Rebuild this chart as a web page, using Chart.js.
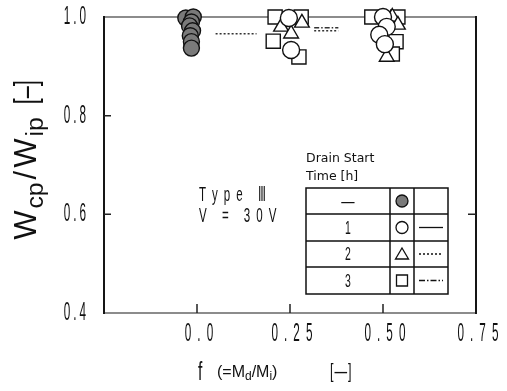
<!DOCTYPE html>
<html>
<head>
<meta charset="utf-8">
<script src="https://cdn.jsdelivr.net/npm/chart.js@4.4.1/dist/chart.umd.min.js"></script>
<style>
  html, body { margin: 0; padding: 0; background: #fff; }
</style>
</head>
<body>
<canvas id="c" width="507" height="391"></canvas>
<script>
// --- data -------------------------------------------------------------
// no drain (filled circles)
const fNone = [-0.03, -0.01, -0.015, -0.02, -0.012, -0.018, -0.015, -0.015];
const wNone = [0.998, 1.0, 0.99, 0.982, 0.972, 0.962, 0.95, 0.937];
// drain start 1 h (open circles)
const f1h = [0.247, 0.253, 0.50, 0.51, 0.49, 0.505];
const w1h = [0.998, 0.933, 1.0, 0.98, 0.964, 0.945];
// drain start 2 h (triangles)
const f2h = [0.226, 0.253, 0.282, 0.525, 0.54, 0.51];
const w2h = [0.98, 0.966, 0.988, 1.0, 0.984, 0.919];
// drain start 3 h (squares)
const f3h = [0.21, 0.28, 0.205, 0.274, 0.47, 0.54, 0.535, 0.525];
const w3h = [1.0, 1.0, 0.951, 0.919, 1.0, 1.0, 0.95, 0.925];
// mean lines between groups
const fLine2h = [0.05, 0.16, 0.24, 0.315, 0.38];
const wLine2h = [0.966, 0.966, null, 0.972, 0.972];
const fLine3h = [0.315, 0.38];
const wLine3h = [0.978, 0.978];

const xTickValues = [0, 0.25, 0.5, 0.75];
const xTickLabels = ['0.0', '0.25', '0.50', '0.75'];
const yTickValues = [0.4, 0.6, 0.8, 1.0];
const yTickLabels = ['0.4', '0.6', '0.8', '1.0'];
const drainTimes = ['—', '1', '2', '3'];

const SANS = "'Liberation Sans', Arial, sans-serif";

const pts = (xs, ys) => xs.map((x, i) => ({ x: x, y: ys[i] }));

// squeezed, letter-spaced text (the typewriter-like condensed lettering)
function spaced(ctx, str, x, y, size, sx, gap, align) {
    ctx.font = size + 'px ' + SANS;
    const chars = Array.from(str);
    const widths = chars.map(c => ctx.measureText(c).width * sx);
    const total = widths.reduce((a, b) => a + b, 0) + gap * (chars.length - 1);
    let cx = align === 'center' ? x - total / 2 : align === 'right' ? x - total : x;
    chars.forEach((c, i) => {
        ctx.save();
        ctx.translate(cx, y);
        ctx.scale(sx, 1);
        ctx.textAlign = 'left';
        ctx.fillText(c, 0, 0);
        ctx.restore();
        cx += widths[i] + gap;
    });
    return total;
}

// text pieces with subscripts, returns total width
function rich(ctx, parts, x, y, size, dryRun) {
    let cx = x;
    parts.forEach(p => {
        const s = p.sub ? size * (p.subScale || 0.8) : size;
        const sx = p.sx || 1;
        ctx.font = s + 'px ' + SANS;
        if (!dryRun) {
            ctx.save();
            ctx.translate(cx, y + (p.sub ? p.drop : 0));
            ctx.scale(sx, 1);
            ctx.fillText(p.t, 0, 0);
            ctx.restore();
        }
        cx += ctx.measureText(p.t).width * sx + (p.gap || 0);
    });
    return cx - x;
}

const framePlugin = {
    id: 'frame',
    beforeDatasetsDraw(chart) {
        const { ctx, chartArea: a, scales } = chart;
        ctx.save();
        ctx.lineWidth = 2;
        ctx.strokeStyle = '#8c8c8c';
        ctx.beginPath();
        ctx.moveTo(a.left, a.top); ctx.lineTo(a.right, a.top);
        ctx.moveTo(a.left, a.bottom); ctx.lineTo(a.right, a.bottom);
        ctx.stroke();
        ctx.strokeStyle = '#151515';
        ctx.beginPath();
        ctx.moveTo(a.left, a.top - 1); ctx.lineTo(a.left, a.bottom + 1);
        ctx.moveTo(a.right, a.top - 1); ctx.lineTo(a.right, a.bottom + 1);
        ctx.stroke();
        // inner ticks
        ctx.lineWidth = 1.5;
        ctx.strokeStyle = '#222';
        ctx.beginPath();
        [0, 0.25, 0.5].forEach(v => {
            const px = scales.x.getPixelForValue(v);
            ctx.moveTo(px, a.bottom); ctx.lineTo(px, a.bottom - 9);
        });
        [0.6, 0.8].forEach(v => {
            const py = scales.y.getPixelForValue(v);
            ctx.moveTo(a.left, py); ctx.lineTo(a.left + 7, py);
        });
        const py6 = scales.y.getPixelForValue(0.6);
        ctx.moveTo(a.right, py6); ctx.lineTo(a.right - 8, py6);
        ctx.stroke();
        ctx.restore();
    },
    afterDraw(chart) {
        const { ctx, scales } = chart;
        ctx.save();
        ctx.fillStyle = '#111';
        ctx.textBaseline = 'middle';

        // tick labels placed from the scales
        scales.x.ticks.forEach(t => {
            const i = xTickValues.indexOf(t.value);
            if (i < 0) return;
            spaced(ctx, xTickLabels[i], scales.x.getPixelForValue(t.value) + 2, 334, 25, 0.47, 6, 'center');
        });
        scales.y.ticks.forEach(t => {
            const i = yTickValues.indexOf(t.value);
            if (i < 0) return;
            spaced(ctx, yTickLabels[i], 86, scales.y.getPixelForValue(t.value), 25, 0.47, 3, 'right');
        });

        ctx.textBaseline = 'alphabetic';

        // y axis title
        const yParts = [
            { t: 'W', gap: 2 }, { t: 'cp', sub: true, drop: 7, gap: 3 }, { t: '/', gap: 3 },
            { t: 'W', gap: 2 }, { t: 'ip', sub: true, drop: 7, gap: 13 },
            { t: '[–]', sx: 0.7 }
        ];
        ctx.translate(36, 160);
        ctx.rotate(-Math.PI / 2);
        const w = rich(ctx, yParts, 0, 0, 31, true);
        rich(ctx, yParts, -w / 2, 0, 31);
        ctx.setTransform(1, 0, 0, 1, 0, 0);

        // x axis title
        spaced(ctx, 'f', 198, 380, 26, 0.6, 0, 'left');
        rich(ctx, [{ t: '(=M' }, { t: 'd', sub: true, drop: 3, subScale: 0.75 }, { t: '/M' },
            { t: 'i', sub: true, drop: 3, subScale: 0.75 }, { t: ')' }], 217, 377, 16);
        spaced(ctx, '[—]', 330, 378, 21, 0.6, 1, 'left');

        // condition text
        spaced(ctx, 'Type Ⅲ', 199, 201, 21, 0.55, 6, 'left');
        spaced(ctx, 'V = 30V', 199, 222, 21, 0.55, 6, 'left');

        // legend table
        ctx.font = '12.5px ' + "'DejaVu Sans', sans-serif";
        ctx.fillText('Drain Start', 306, 162);
        ctx.fillText('Time [h]', 306, 180);
        const cols = [306, 390, 414, 448];
        const rows = [188, 214, 241, 267, 294];
        ctx.strokeStyle = '#111';
        ctx.lineWidth = 1.5;
        ctx.strokeRect(cols[0], rows[0], cols[3] - cols[0], rows[4] - rows[0]);
        ctx.beginPath();
        cols.slice(1, 3).forEach(x => { ctx.moveTo(x, rows[0]); ctx.lineTo(x, rows[4]); });
        rows.slice(1, 4).forEach(y => { ctx.moveTo(cols[0], y); ctx.lineTo(cols[3], y); });
        ctx.stroke();

        const styles = ['filled', 'circle', 'triangle', 'rect'];
        const dashes = [null, [], [2, 2], [6, 2, 1.5, 2]];
        drainTimes.forEach((lab, i) => {
            const cy = (rows[i] + rows[i + 1]) / 2;
            ctx.fillStyle = '#111';
            ctx.textBaseline = 'middle';
            spaced(ctx, lab, (cols[0] + cols[1]) / 2, cy + 1, 19, i === 0 ? 0.7 : 0.55, 0, 'center');
            const mx = (cols[1] + cols[2]) / 2;
            ctx.lineWidth = 1.3;
            ctx.beginPath();
            if (styles[i] === 'filled' || styles[i] === 'circle') {
                ctx.arc(mx, cy, 6, 0, Math.PI * 2);
                ctx.fillStyle = styles[i] === 'filled' ? '#7a7a7a' : '#fff';
                ctx.fill();
                ctx.stroke();
            } else if (styles[i] === 'triangle') {
                ctx.moveTo(mx, cy - 6); ctx.lineTo(mx + 6.5, cy + 5); ctx.lineTo(mx - 6.5, cy + 5);
                ctx.closePath(); ctx.stroke();
            } else {
                ctx.rect(mx - 5.5, cy - 5.5, 11, 11); ctx.stroke();
            }
            if (dashes[i]) {
                ctx.setLineDash(dashes[i]);
                ctx.beginPath();
                ctx.moveTo(cols[2] + 5, cy); ctx.lineTo(cols[3] - 5, cy);
                ctx.stroke();
                ctx.setLineDash([]);
            }
        });
        ctx.restore();
    }
};

const marker = (label, data, style, fill, radius) => ({
    label: label,
    data: data,
    showLine: false,
    pointStyle: style,
    pointRadius: radius,
    pointBackgroundColor: fill,
    pointBorderColor: '#111',
    pointBorderWidth: 1.4,
    clip: false,
    order: 1
});

const noPad = s => { s.paddingTop = 0; s.paddingBottom = 0; s.paddingLeft = 0; s.paddingRight = 0; };

new Chart(document.getElementById('c'), {
    type: 'scatter',
    data: {
        datasets: [
            marker('—', pts(fNone, wNone), 'circle', '#7a7a7a', 8),
            marker('1', pts(f1h, w1h), 'circle', '#fff', 8.5),
            marker('2', pts(f2h, w2h), 'triangle', '#fff', 8.5),
            marker('3', pts(f3h, w3h), 'rect', '#fff', 10),
            {
                label: '2 line',
                data: pts(fLine2h, wLine2h),
                showLine: true,
                spanGaps: false,
                borderColor: '#333',
                borderWidth: 1.5,
                borderDash: [2, 2],
                pointRadius: 0,
                order: 2
            },
            {
                label: '3 line',
                data: pts(fLine3h, wLine3h),
                showLine: true,
                borderColor: '#333',
                borderWidth: 1.5,
                borderDash: [5, 2, 1.5, 2],
                pointRadius: 0,
                order: 2
            }
        ]
    },
    options: {
        responsive: false,
        animation: false,
        layout: { padding: { top: 17, right: 31, left: 0, bottom: 0 } },
        plugins: { legend: { display: false }, tooltip: { enabled: false } },
        scales: {
            x: {
                type: 'linear',
                min: -0.25,
                max: 0.75,
                afterFit: s => { s.height = 78; noPad(s); },
                afterBuildTicks: s => { s.ticks = xTickValues.map(v => ({ value: v })); },
                grid: { display: false, drawTicks: false },
                border: { display: false },
                ticks: { display: false }
            },
            y: {
                type: 'linear',
                min: 0.4,
                max: 1.0,
                afterFit: s => { s.width = 104; noPad(s); },
                afterBuildTicks: s => { s.ticks = yTickValues.map(v => ({ value: v })); },
                grid: { display: false, drawTicks: false },
                border: { display: false },
                ticks: { display: false }
            }
        }
    },
    plugins: [framePlugin]
});
</script>
</body>
</html>
